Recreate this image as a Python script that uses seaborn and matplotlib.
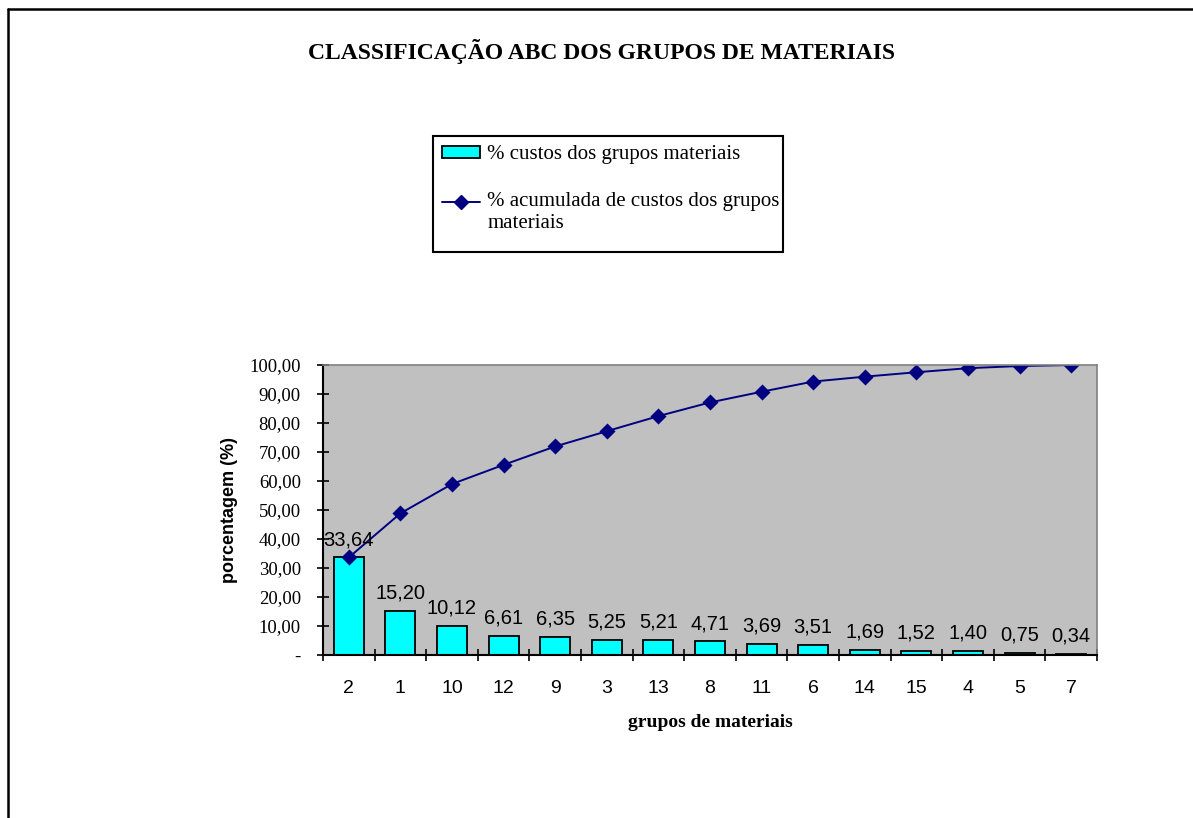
import matplotlib
matplotlib.use("Agg")
import matplotlib.pyplot as plt
import seaborn as sns
import numpy as np
from matplotlib.lines import Line2D
from matplotlib.patches import Patch, Rectangle
from matplotlib.legend_handler import HandlerLine2D

categories = ["2", "1", "10", "12", "9", "3", "13", "8", "11", "6", "14", "15", "4", "5", "7"]
pct_costs = [33.64, 15.20, 10.12, 6.61, 6.35, 5.25, 5.21, 4.71, 3.69, 3.51, 1.69, 1.52, 1.40, 0.75, 0.34]
pct_cumulative = [33.64, 48.84, 58.96, 65.57, 71.92, 77.17, 82.38, 87.09, 90.78, 94.29, 95.98, 97.50, 98.90, 99.65, 99.99]
y_ticks = [0, 10, 20, 30, 40, 50, 60, 70, 80, 90, 100]

title = "CLASSIFICAÇÃO ABC DOS GRUPOS DE MATERIAIS"
bar_label = "% custos dos grupos materiais"
line_label = "% acumulada de custos dos grupos\nmateriais"

sns.set_style("white")
plt.rcParams["font.family"] = ["Liberation Serif", "DejaVu Serif"]
plt.rcParams["text.color"] = "black"
plt.rcParams["axes.labelcolor"] = "black"
plt.rcParams["xtick.color"] = "black"
plt.rcParams["ytick.color"] = "black"

W, H = 1193, 818
fig = plt.figure(figsize=(W / 100, H / 100), dpi=100)
ax = fig.add_axes([323 / W, 1 - 655 / H, (1097 - 323) / W, (655 - 365) / H])
ax.set_facecolor("#C0C0C0")

sns.barplot(x=categories, y=pct_costs, order=categories, color="#00FFFF",
            edgecolor="black", linewidth=1.3, width=0.58, saturation=1, ax=ax)
sns.pointplot(x=categories, y=pct_cumulative, order=categories, color="#000080",
              markers="D", linestyles="-", errorbar=None, ax=ax,
              markersize=7, linewidth=1.4)

def fmt(v):
    return "-" if v == 0 else f"{v:.2f}".replace(".", ",")

for i, v in enumerate(pct_costs):
    ax.annotate(fmt(v), (i, v), xytext=(0, 6), textcoords="offset points",
                ha="center", va="bottom", fontsize=14.5, family="Liberation Sans")

ax.set_xlim(-0.5, len(categories) - 0.5)
ax.set_ylim(0, 100)
ax.set_yticks(y_ticks)
ax.set_yticklabels([fmt(v) for v in y_ticks], fontsize=13.5)
ax.tick_params(axis="y", direction="inout", length=8, width=1.2, pad=12, left=True)

ax.set_xticks(range(len(categories)))
ax.set_xticklabels(categories, fontsize=14, family="Liberation Sans")
ax.set_xticks(np.arange(-0.5, len(categories), 1.0), minor=True)
ax.tick_params(axis="x", which="major", length=0, pad=18)
ax.tick_params(axis="x", which="minor", direction="inout", length=9, width=1.2, bottom=True)

for s in ["left", "bottom"]:
    ax.spines[s].set_color("black")
    ax.spines[s].set_linewidth(1.5)
for s in ["top", "right"]:
    ax.spines[s].set_color("#808080")
    ax.spines[s].set_linewidth(1.2)

ax.set_ylabel("porcentagem (%)", fontsize=13, fontweight="bold", family="Liberation Sans", labelpad=8)
ax.set_xlabel("grupos de materiais", fontsize=14, fontweight="bold", labelpad=12)

fig.text(602 / W, 1 - 52 / H, title, ha="center", va="center", fontsize=17, fontweight="bold")


class RaisedLineHandler(HandlerLine2D):
    def create_artists(self, legend, orig_handle, xdescent, ydescent, width, height, fontsize, trans):
        return super().create_artists(legend, orig_handle, xdescent, ydescent - 16.5,
                                      width, height, fontsize, trans)


line_handle = Line2D([0], [0], color="#000080", marker="D", markersize=7, linewidth=1.4)
handles = [Patch(facecolor="#00FFFF", edgecolor="black", linewidth=1.3), line_handle]
leg = fig.legend(handles, [bar_label, line_label], loc="upper left",
                 bbox_to_anchor=(433 / W, 1 - 136 / H, (783 - 433) / W, 0.0), mode="expand",
                 fontsize=15, frameon=False,
                 borderpad=0.45, labelspacing=1.35, handlelength=1.8, handleheight=0.45,
                 handletextpad=0.35, borderaxespad=0,
                 handler_map={line_handle: RaisedLineHandler()})
for t in leg.get_texts():
    t.set_linespacing(1.15)

fig.add_artist(Rectangle((433 / W, 1 - 252 / H), (783 - 433) / W, (252 - 136) / H,
                         transform=fig.transFigure, facecolor="none", edgecolor="black", linewidth=1.5))

fig.add_artist(Line2D([8 / W, 8 / W], [0, 1 - 9 / H], transform=fig.transFigure, color="black", linewidth=1.8))
fig.add_artist(Line2D([8 / W, 1], [1 - 9 / H, 1 - 9 / H], transform=fig.transFigure, color="black", linewidth=1.8))

fig.savefig("out.png", dpi=100)
